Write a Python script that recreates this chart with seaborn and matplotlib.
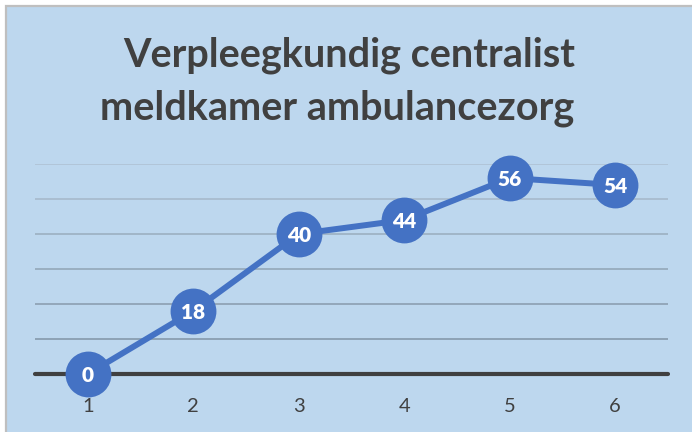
import numpy as np
import pandas as pd
import matplotlib
matplotlib.use('Agg')
import matplotlib.pyplot as plt
from matplotlib.patches import Rectangle
import seaborn as sns

# data
categories = [1, 2, 3, 4, 5, 6]
values = [0, 18, 40, 44, 56, 54]
grid_levels = [10, 20, 30, 40, 50, 60]
grid_colors = ['#8A9EB0', '#90A4B6', '#97ABBD', '#9FB3C5', '#A8BCCE', '#B0C4D6']

BG = '#BDD7EE'
LINE = '#4472C4'
TXT = '#404040'

sns.set_style('white')
plt.rcParams['font.family'] = ['Lato', 'DejaVu Sans']

df = pd.DataFrame({'x': categories, 'y': values})

fig = plt.figure(figsize=(6.92, 4.32), dpi=100)
fig.patch.set_facecolor('white')
fig.patches.append(Rectangle((6/692, -0.1), 1.2, (432-6)/432 + 0.1,
                             transform=fig.transFigure, facecolor=BG,
                             edgecolor='#BFBFBF', linewidth=1.6, zorder=-5))

ax = fig.add_axes([35/692, (432-374)/432, (668-35)/692, (374-164)/432])
ax.set_facecolor('none')
ax.set_zorder(2)

for lvl, c in zip(grid_levels, grid_colors):
    ax.axhline(lvl, color=c, linewidth=1.3, zorder=1)
ax.axhline(0, color=TXT, linewidth=3, zorder=2, clip_on=False)

sns.lineplot(data=df, x='x', y='y', ax=ax, color=LINE, linewidth=4.3,
             marker='o', markersize=33, markeredgewidth=0, zorder=3, clip_on=False)

for xv, yv in zip(categories, values):
    ax.text(xv, yv, str(yv), ha='center', va='center_baseline', color='white',
            fontsize=15, fontweight='heavy', zorder=4)

ax.set_xlim(0.5, 6.5)
ax.set_ylim(0, 60)
ax.set_xticks(categories)
ax.set_xticklabels([str(c) for c in categories], fontsize=14.5, color=TXT)
ax.tick_params(axis='x', length=0, pad=17)
ax.set_yticks([])
ax.set_xlabel('')
ax.set_ylabel('')
for s in ax.spines.values():
    s.set_visible(False)

fig.text(349/692, 1 - 55/432, 'Verpleegkundig centralist', ha='center', va='center',
         fontsize=28.5, fontweight='bold', color=TXT)
fig.text(337/692, 1 - 108/432, 'meldkamer ambulancezorg', ha='center', va='center',
         fontsize=28.5, fontweight='bold', color=TXT)

fig.savefig('out.png', dpi=100)
